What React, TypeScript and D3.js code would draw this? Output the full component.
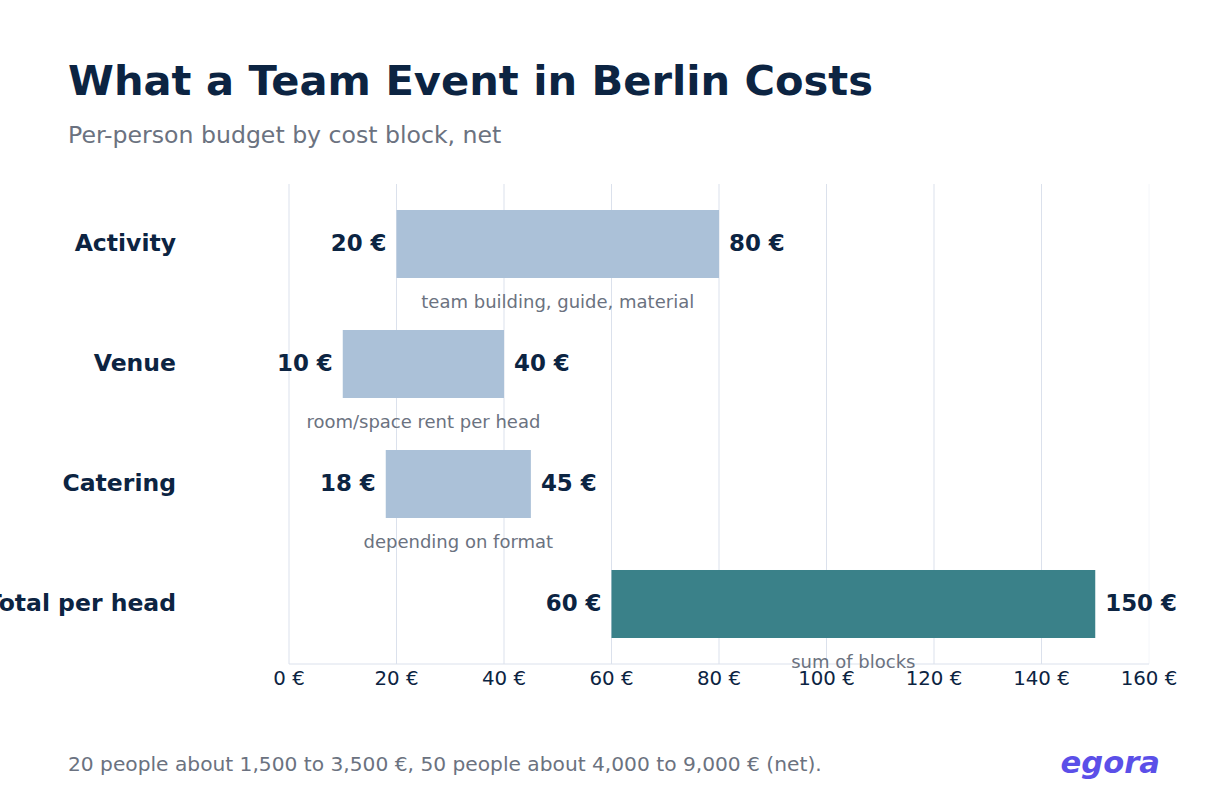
import React from "react";
import * as d3 from "d3";

const categories = ["Activity", "Venue", "Catering", "Total per head"];
const lowValues = [20, 10, 18, 60];
const highValues = [80, 40, 45, 150];
const notes = [
  "team building, guide, material",
  "room/space rent per head",
  "depending on format",
  "sum of blocks",
];
const isTotal = [false, false, false, true];
const xTicks = [0, 20, 40, 60, 80, 100, 120, 140, 160];

const W = 1230;
const H = 800;
const FONT = "'DejaVu Sans', sans-serif";
const NAVY = "#0c2442";
const GRAY = "#6b7280";

export default function App() {
  const x = d3.scaleLinear().domain([0, 160]).range([289, 1149]);
  const y = d3
    .scaleBand<string>()
    .domain(categories)
    .range([184, 664])
    .paddingInner(0.4333)
    .paddingOuter(0.21667);
  const bw = y.bandwidth();

  return (
    <div style={{ position: "absolute", left: 0, top: 0 }}>
      <svg width={W} height={H} style={{ display: "block", background: "#fff" }} fontFamily={FONT}>
        <rect width={W} height={H} fill="#fff" />
        <text x={68} y={95} fontSize={41.6} fontWeight="bold" fill={NAVY}>
          What a Team Event in Berlin Costs
        </text>
        <text x={68} y={143} fontSize={23.6} fill={GRAY}>
          Per-person budget by cost block, net
        </text>

        {xTicks.map((t, i) => (
          <line
            key={"g" + t}
            x1={x(t)}
            x2={x(t)}
            y1={184}
            y2={664}
            stroke={i === xTicks.length - 1 ? "#f4f6fa" : "#dbe1ec"}
            strokeWidth={1}
          />
        ))}
        <line x1={x(0)} x2={x(160)} y1={664} y2={664} stroke="#dbe1ec" strokeWidth={1} />
        {xTicks.map((t) => (
          <text key={"t" + t} x={x(t)} y={685} fontSize={19.8} fill={NAVY} textAnchor="middle">
            {`${t} €`}
          </text>
        ))}

        {categories.map((c, i) => {
          const y0 = y(c)!;
          const cy = y0 + bw / 2;
          const x0 = x(lowValues[i]);
          const x1 = x(highValues[i]);
          return (
            <g key={c}>
              <rect
                x={x0}
                y={y0}
                width={x1 - x0}
                height={bw}
                fill={isTotal[i] ? "#3a8189" : "#abc1d8"}
              />
              <text x={176} y={cy} dy="0.3em" fontSize={23.5} fontWeight="bold" fill={NAVY} textAnchor="end">
                {c}
              </text>
              <text x={x0 - 10} y={cy} dy="0.3em" fontSize={22.9} fontWeight="bold" fill={NAVY} textAnchor="end">
                {`${lowValues[i]} €`}
              </text>
              <text x={x1 + 10} y={cy} dy="0.3em" fontSize={22.9} fontWeight="bold" fill={NAVY} textAnchor="start">
                {`${highValues[i]} €`}
              </text>
              <text x={(x0 + x1) / 2} y={y0 + bw + 30} fontSize={18} fill={GRAY} textAnchor="middle">
                {notes[i]}
              </text>
            </g>
          );
        })}

        <text x={68} y={771} fontSize={20.2} fill={GRAY}>
          20 people about 1,500 to 3,500 €, 50 people about 4,000 to 9,000 € (net).
        </text>
        <text x={1160} y={773} fontSize={30.6} fontWeight="bold" fontStyle="italic" fill="#5b4fe8" textAnchor="end">
          egora
        </text>
      </svg>
    </div>
  );
}
